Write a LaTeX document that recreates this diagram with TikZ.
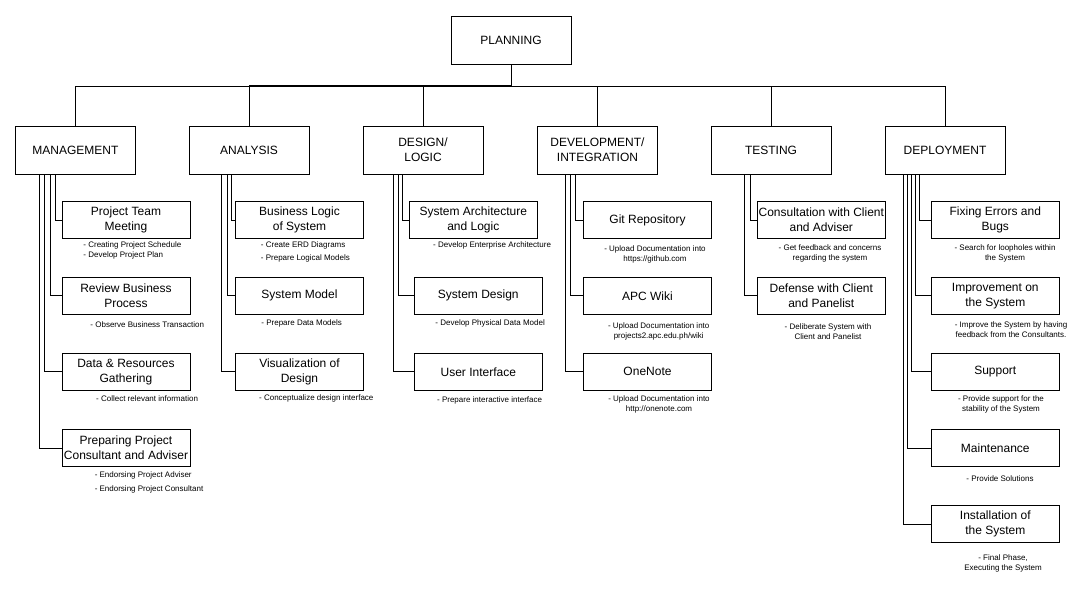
\documentclass[tikz,border=0pt]{standalone}
\usepackage{fontspec}
\setmainfont{Liberation Sans}
\begin{document}
\begin{tikzpicture}[x=1pt,y=-1pt,
  line width=0.9pt,
  phase/.style={draw, rectangle, minimum width=120pt, minimum height=48pt,
    inner sep=0pt, align=center, font=\fontsize{12}{15}\selectfont},
  task/.style={draw, rectangle, minimum width=128pt, minimum height=36.6pt,
    inner sep=0pt, align=center, font=\fontsize{12}{15}\selectfont},
  note/.style={inner sep=0pt, font=\fontsize{8}{10}\selectfont},
  notel/.style={note, anchor=west, align=left},
  notec/.style={note, align=center},
  busline/.style={line width=1.8pt}
]
\useasboundingbox (0,0) rectangle (1087,590);

% top level and phases
\node[phase] (plan) at (511,40) {PLANNING};
\node[phase] (mgmt) at (75.4,150.2) {MANAGEMENT};
\node[phase] (ana)  at (249,150.2) {ANALYSIS};
\node[phase] (des)  at (423,150.2) {DESIGN/\\LOGIC};
\node[phase] (dev)  at (597.5,150.2) {DEVELOPMENT/\\INTEGRATION};
\node[phase] (tst)  at (771,150.2) {TESTING};
\node[phase] (dep)  at (945,150.2) {DEPLOYMENT};

\coordinate (bus) at (511,86);
\foreach \p in {mgmt,ana,des,dev,tst,dep}
  \draw (plan.south) -- (bus) -| (\p.north);
\draw[busline] (bus) -- (bus -| ana.north);

% management
\node[task] (m1) at (126,220)   {Project Team\\Meeting};
\node[task] (m2) at (126,295.8) {Review Business\\Process};
\node[task] (m3) at (126,371.8) {Data \& Resources\\Gathering};
\node[task] (m4) at (126,448.2) {Preparing Project\\Consultant and Adviser};
\draw ([xshift=-20.4pt]mgmt.south) |- (m1.west);
\draw ([xshift=-25.4pt]mgmt.south) |- (m2.west);
\draw ([xshift=-31pt]mgmt.south) |- (m3.west);
\draw ([xshift=-35.6pt]mgmt.south) |- (m4.west);
\node[notel] (m1n) at (83,250.5) {- Creating Project Schedule\\- Develop Project Plan};
\node[notel] (m2n) at (90,324.3) {- Observe Business Transaction};
\node[notel] (m3n) at (95.7,399) {- Collect relevant information};
\node[notel] (m4n) at (94.3,482.5) {- Endorsing Project Adviser\\[3.6pt]- Endorsing Project Consultant};

% analysis
\node[task] (a1) at (299.5,220)   {Business Logic\\of System};
\node[task] (a2) at (299.5,295.8) {System Model};
\node[task] (a3) at (299.5,371.8) {Visualization of\\Design};
\draw ([xshift=-18pt]ana.south) |- (a1.west);
\draw ([xshift=-22pt]ana.south) |- (a2.west);
\draw ([xshift=-28pt]ana.south) |- (a3.west);
\node[notel] (a1n) at (260.5,252) {- Create ERD Diagrams\\[3.4pt]- Prepare Logical Models};
\node[notel] (a2n) at (261,323.3) {- Prepare Data Models};
\node[notel] (a3n) at (258.7,398.3) {- Conceptualize design interface};

% design / logic
\node[task] (d1) at (473.3,220)   {System Architecture\\and Logic};
\node[task] (d2) at (478.3,295.8) {System Design};
\node[task] (d3) at (478.3,371.8) {User Interface};
\draw ([xshift=-20.7pt]des.south) |- (d1.west);
\draw ([xshift=-24.3pt]des.south) |- (d2.west);
\draw ([xshift=-29.7pt]des.south) |- (d3.west);
\node[notel] (d1n) at (432.7,245.3) {- Develop Enterprise Architecture};
\node[notel] (d2n) at (435,323.3) {- Develop Physical Data Model};
\node[notel] (d3n) at (436.7,400.7) {- Prepare interactive interface};

% development / integration
\node[task] (v1) at (647.5,220)   {Git Repository};
\node[task] (v2) at (647.5,295.8) {APC Wiki};
\node[task] (v3) at (647.5,371.8) {OneNote};
\draw ([xshift=-22.2pt]dev.south) |- (v1.west);
\draw ([xshift=-26.8pt]dev.south) |- (v2.west);
\draw ([xshift=-32.2pt]dev.south) |- (v3.west);
\node[notec] (v1n) at (655,254.6) {- Upload Documentation into\\https://github.com};
\node[notec] (v2n) at (658.7,331.2) {- Upload Documentation into\\projects2.apc.edu.ph/wiki};
\node[notec] (v3n) at (659,404.2) {- Upload Documentation into\\http://onenote.com};

% testing
\node[task] (t1) at (821.3,220)   {Consultation with Client\\and Adviser};
\node[task] (t2) at (821.3,295.8) {Defense with Client\\and Panelist};
\draw ([xshift=-20.3pt]tst.south) |- (t1.west);
\draw ([xshift=-26.7pt]tst.south) |- (t2.west);
\node[notec] (t1n) at (830,253.8) {- Get feedback and concerns\\regarding the system};
\node[notec] (t2n) at (828,331.2) {- Deliberate System with\\Client and Panelist};

% deployment
\node[task] (p1) at (995.3,220)   {Fixing Errors and\\Bugs};
\node[task] (p2) at (995.3,295.8) {Improvement on\\the System};
\node[task] (p3) at (995.3,371.8) {Support};
\node[task] (p4) at (995.3,448.2) {Maintenance};
\node[task] (p5) at (995.3,524.2) {Installation of\\the System};
\draw ([xshift=-25.7pt]dep.south) |- (p1.west);
\draw ([xshift=-29.7pt]dep.south) |- (p2.west);
\draw ([xshift=-33.3pt]dep.south) |- (p3.west);
\draw ([xshift=-37.7pt]dep.south) |- (p4.west);
\draw ([xshift=-41.7pt]dep.south) |- (p5.west);
\node[notec] (p1n) at (1005,253.8) {- Search for loopholes within\\the System};
\node[notec] (p2n) at (1011,329.8) {- Improve the System by having\\feedback from the Consultants.};
\node[notec] (p3n) at (1001,404.3) {- Provide support for the\\stability of the System};
\node[notec] (p4n) at (1000,478.3) {- Provide Solutions};
\node[notec] (p5n) at (1003,563.3) {- Final Phase,\\Executing the System};
\end{tikzpicture}
\end{document}
